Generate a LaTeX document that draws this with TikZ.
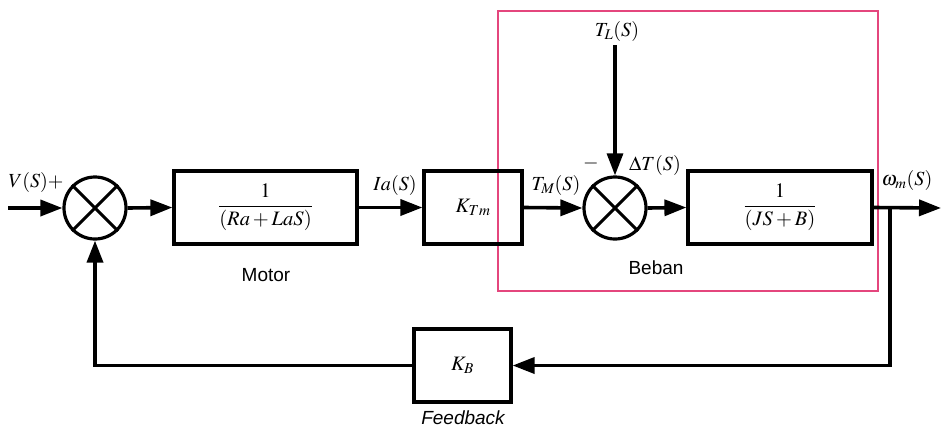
\documentclass[tikz,border=0pt]{standalone}
\usepackage{mathptmx}
\usepackage{fontspec}
\newfontfamily\arialf{Liberation Sans}
\usetikzlibrary{arrows.meta}
\definecolor{pinkline}{RGB}{228,70,125}
\begin{document}
\begin{tikzpicture}[x=1pt,y=-1pt,
  blk/.style={draw,line width=3.2pt,inner sep=0pt,font=\fontsize{20.5}{24}\selectfont},
  sumj/.style={draw,circle,line width=3.2pt,minimum size=62pt,inner sep=0pt},
  arr/.style={line width=3.6pt,-{Triangle[length=22pt,width=16pt]}},
  mlab/.style={inner sep=0pt,font=\fontsize{20}{24}\selectfont},
  slab/.style={inner sep=0pt,font=\fontsize{19}{22}\selectfont\arialf}]
\useasboundingbox (0,0) rectangle (941,429);
% load region box
\draw[pinkline,line width=1.2pt] (498,11) rectangle (878,291);
% blocks
\node[blk,minimum width=183pt,minimum height=73pt] (motor) at (265.5,207.5) {$\displaystyle\frac{1}{(Ra+LaS)}$};
\node[blk,minimum width=98pt,minimum height=73pt] (ktm) at (473,207.5) {$K_{Tm}$};
\node[blk,minimum width=184pt,minimum height=73pt] (load) at (780,207.5) {$\displaystyle\frac{1}{(JS+B)}$};
\node[blk,minimum width=97pt,minimum height=73pt] (kb) at (462.5,365.5) {$K_{B}$};
% summing junctions
\node[sumj] (sum1) at (95,208) {};
\draw[line width=3pt] (sum1.north east) -- (sum1.south west) (sum1.north west) -- (sum1.south east);
\node[sumj] (sum2) at (615,208) {};
\draw[line width=3pt] (sum2.north east) -- (sum2.south west) (sum2.north west) -- (sum2.south east);
% coordinates
\coordinate (in) at (8,208);
\coordinate (out) at (941,208);
\coordinate (br) at (890,208);
\coordinate (tl) at (615,45);
% connectors
\draw[arr] (in) -- (sum1.west);
\draw[arr] (sum1.east) -- (motor.west);
\draw[arr] (motor.east) -- (ktm.west);
\draw[arr] (ktm.east) -- (sum2.west);
\draw[arr,line width=3.2pt] (tl) -- (sum2.north);
\draw[arr] (sum2.east) -- (load.west);
\draw[arr] (load.east) -- (out);
\draw[arr] (br) |- (kb.east);
\draw[arr] (kb.west) -| (sum1.south);
% labels
\node[mlab] (lv) at (36,182) {$V(S)+$};
\node[mlab] (lia) at (395,185) {$Ia(S)$};
\node[mlab] (ltm) at (556,185) {$T_M(S)$};
\node[mlab] (lminus) at (591,163) {$-$};
\node[mlab] (ldt) at (655,165) {$\Delta T(S)$};
\node[mlab] (lw) at (907,180) {$\omega_m(S)$};
\node[mlab] (ltl) at (617,31) {$T_L(S)$};
\node[slab] (lmotor) at (266,275) {Motor};
\node[slab] (lbeban) at (656,268) {Beban};
\node[slab,font=\fontsize{19}{22}\selectfont\arialf\itshape] (lfb) at (463,418) {Feedback};
\end{tikzpicture}
\end{document}
